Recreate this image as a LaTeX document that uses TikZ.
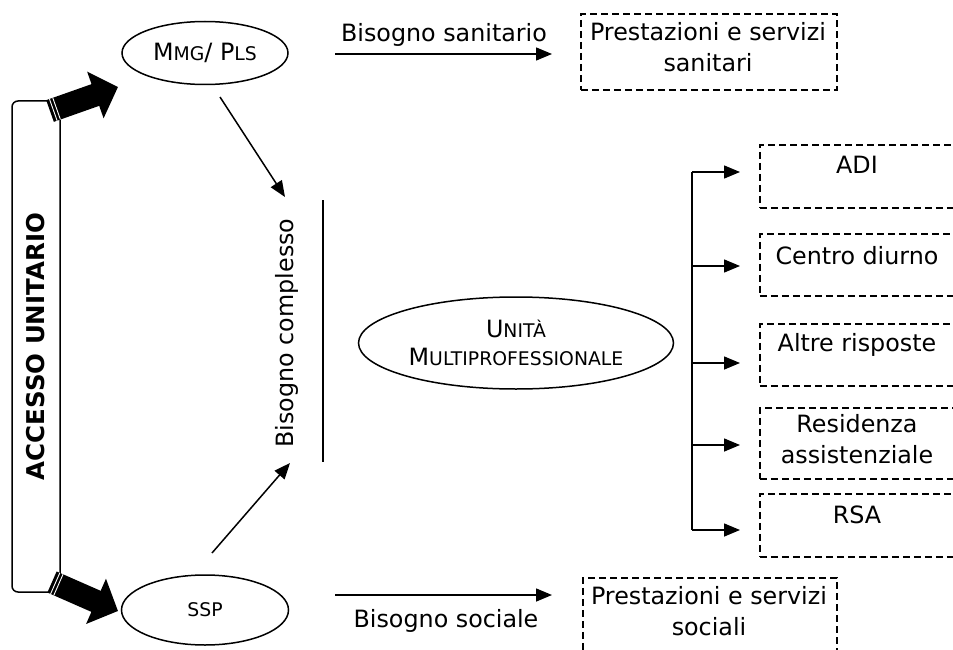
\documentclass[tikz,border=0pt]{standalone}
\usepackage{fontspec}
\setmainfont{DejaVu Sans}
\usetikzlibrary{shapes.geometric,arrows.meta,calc}
\newcommand\smcap[1]{{\fontsize{18.8}{21}\selectfont #1}}
\begin{document}
\begin{tikzpicture}[x=1pt,y=-1pt,line width=1.5pt,
  ell/.style={draw,ellipse,inner sep=0pt},
  dbox/.style={draw,rectangle,line width=1.6pt,dash pattern=on 7pt off 4pt,inner sep=0pt,anchor=north west},
  txt/.style={inner sep=0pt,align=center,font=\fontsize{23.8}{30.5}\selectfont},
  thinarrow/.style={-{Triangle[length=16pt,width=13pt]}},
  bigarrow/.style={line width=23pt,-{Triangle[length=24pt,width=48pt]}},
  stripe/.style={white,line width=0.9pt}]
\clip (0,0) rectangle (953,650);

% access box
\node[draw,rounded corners=6pt,rotate=90,minimum width=491pt,minimum height=48pt,inner sep=0pt,
      font=\fontsize{24.5}{28}\selectfont\bfseries] (acc) at (36,346.5) {ACCESSO UNITARIO};

% thick arrows
\coordinate (ut) at (50,111);
\coordinate (uh) at (118,87);
\coordinate (lt) at (52,582);
\coordinate (lh) at (118,611);
\draw[bigarrow] (ut) -- (uh);
\draw[bigarrow] (lt) -- (lh);
\foreach \a/\b in {ut/uh,lt/lh}{
  \foreach \d in {3.5,7}{
    \coordinate (s) at ($(\a)!\d pt!(\b)$);
    \draw[stripe] ($(s)!11.5pt!90:(\b)$) -- ($(s)!11.5pt!-90:(\b)$);
  }
}

% ellipses
\node[ell,minimum width=166pt,minimum height=63pt,font=\fontsize{23.8}{28}\selectfont] (mmg) at (205,53) {M\smcap{MG}/ P\smcap{LS}};
\node[ell,minimum width=167pt,minimum height=70pt,font=\fontsize{23.8}{28}\selectfont] (ssp) at (205,610) {\smcap{SSP}};
\node[ell,minimum width=315pt,minimum height=92pt,align=center,font=\fontsize{23.8}{28}\selectfont] (um) at (516,343) {U\smcap{NITÀ}\\M\smcap{ULTIPROFESSIONALE}};

% bisogno complesso
\node[txt,rotate=90] (bc) at (287,333) {Bisogno complesso};
\coordinate (vla) at (323,200);
\coordinate (vlb) at (323,462);
\draw (vla) -- (vlb);
\coordinate (mmgs) at (220,97);
\coordinate (bce) at (285,197);
\coordinate (ssps) at (212,553);
\coordinate (bcs) at (290,463);
\draw[thinarrow] (mmgs) -- (bce);
\draw[thinarrow] (ssps) -- (bcs);

% sanitario / sociale
\coordinate (sa1) at (335,54);
\coordinate (sa2) at (552,54);
\draw[thinarrow] (sa1) -- (sa2);
\node[txt] (sanl) at (444,35) {Bisogno sanitario};
\node[dbox,minimum width=256pt,minimum height=76pt] (sanbox) at (580,13) {};
\node[txt] (sant) at (708,47) {Prestazioni e servizi\\sanitari};

\coordinate (so1) at (335,595);
\coordinate (so2) at (552,595);
\draw[thinarrow] (so1) -- (so2);
\node[txt] (socl) at (446,621) {Bisogno sociale};
\node[dbox,minimum width=254pt,minimum height=76pt] (socbox) at (582,577) {};
\node[txt] (soct) at (709,611) {Prestazioni e servizi\\sociali};

% branch
\coordinate (brt) at (692,172);
\coordinate (brb) at (692,530);
\draw (brt) -- (brb);
\foreach \n/\y in {1/172,2/266,3/363,4/445,5/530}{
  \coordinate (bs\n) at (692,\y);
  \coordinate (be\n) at (740,\y);
  \draw[thinarrow] (bs\n) -- (be\n);
}

% right boxes
\node[dbox,minimum width=196pt,minimum height=63pt] (adi) at (759,144) {};
\node[txt] (adit) at (857,165) {ADI};
\node[dbox,minimum width=196pt,minimum height=62pt] (cd) at (759,233) {};
\node[txt] (cdt) at (857,256) {Centro diurno};
\node[dbox,minimum width=196pt,minimum height=62pt] (ar) at (759,323) {};
\node[txt] (art) at (857,345) {Altre risposte};
\node[dbox,minimum width=196pt,minimum height=71pt] (ra) at (759,407) {};
\node[txt] (rat) at (857,439) {Residenza\\assistenziale};
\node[dbox,minimum width=196pt,minimum height=63pt] (rsa) at (759,493) {};
\node[txt] (rsat) at (857,515) {RSA};
\end{tikzpicture}
\end{document}
